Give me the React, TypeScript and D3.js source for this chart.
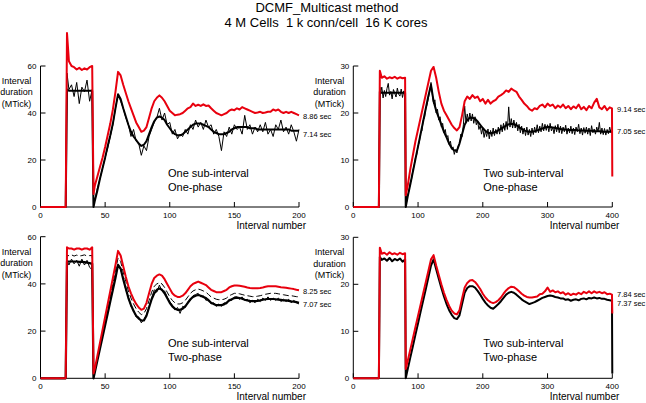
import React from "react";
import * as d3 from "d3";

// interval numbers sampled for left (0-200) and right (0-400) panels
const X_LEFT = [0, 19.5, 20.5, ...d3.range(22, 41, 2), 41, ...d3.range(42, 201, 2)];
const X_RIGHT = [0, 39.5, 41, ...d3.range(44, 81, 4), 81, ...d3.range(84, 397, 4), 399.5, 400];
const X_RIGHT_FINE = [0, 39.5, 41, ...d3.range(42, 81, 2), 81, ...d3.range(82, 399, 2), 399.5, 400];

// Panel 1: one sub-interval, one-phase
const RED_1 = [0, 0, 74,
  62, 60, 59.5, 58.5, 59.2, 58.3, 59, 58.5, 59.5, 60,
  5.5,
  9, 13, 17, 21, 25.5, 30.5, 35.5, 41.5, 49, 57.5,
  56, 52, 48.5, 45, 42, 39, 36, 34, 32, 32.5,
  34, 38, 42, 45, 46.5, 47.5, 46.5, 45, 43, 41,
  40, 39, 39.3, 39.5, 40, 41, 42, 42.5, 44, 43,
  43.5, 43, 43.7, 43, 43.2, 42, 41, 40, 39.5, 39,
  39.5, 40, 41, 41.5, 41.2, 42, 41.5, 42.5, 42, 41.5,
  41, 40.5, 40, 40.2, 40.5, 40, 40.2, 40.5, 40.5, 41.5,
  41, 41.5, 40.5, 40, 40.5, 40, 40.5, 40, 39.5, 39];
const BLK_1 = [0, 0, 57,
  50, 52, 47, 53, 44, 51, 49, 54, 45, 50,
  0,
  3, 8, 12, 16.5, 21, 25, 30, 35, 42, 48,
  45, 42, 38, 35, 30, 33, 28, 27, 22, 26,
  24, 30, 33, 36, 38, 42, 37, 40, 35, 36,
  31, 33, 29, 31, 30, 33, 31, 35, 33, 37,
  34, 36, 33, 37, 34, 35, 31, 33, 30, 24,
  32, 30, 34, 31, 35, 33, 34, 31, 39, 33,
  35, 31, 34, 32, 35, 32, 36, 31, 33, 30,
  35, 33, 37, 32, 34, 31, 35, 32, 28, 33];
const SMOOTH_1 = [0, 0, 50,
  49.5, 49.5, 49.5, 49.5, 49.5, 49.5, 49.5, 49.5, 49.5, 49.5,
  0,
  2.5, 7, 12, 16.5, 21, 26, 30.5, 35.5, 42, 48,
  46, 42, 38.5, 35, 32, 30, 28.5, 27, 26, 26.5,
  28, 31, 34, 36.5, 38, 38.5, 38, 37, 35, 33.5,
  32, 31, 30.5, 30.5, 31, 32, 33, 34, 35, 35.5,
  35.5, 35.5, 35, 34.5, 34, 33, 32, 31.5, 31, 31,
  31, 31.5, 32, 33, 33.5, 34, 34, 34, 34, 34,
  33.5, 33.5, 33.5, 33, 33, 33, 33, 33, 33, 33,
  33, 33, 33, 33, 33, 33, 32.5, 32.5, 32.5, 32.5];

// Panel 2: two sub-interval, one-phase
const RED_2 = [0, 0, 29,
  27.5, 27.8, 27.3, 27.6, 27.4, 27.7, 27.3, 27.6, 27.4, 27.5,
  2.5,
  4.5, 8, 11, 14, 16.5, 19, 21.5, 24, 26.5, 29,
  29.8, 27.5, 24.5, 22, 20.5, 19.5, 18.5, 17.5, 16.8, 16.3,
  17, 19.5, 22.5, 23.5, 23, 23.8, 23.2, 23.5, 22.5, 23,
  22, 22.8, 22, 22.5, 22.8, 23.5, 23.8, 24.2, 24.8, 24.5,
  25.2, 24.8, 24.5, 23.5, 22.8, 22, 21.5, 20.8, 20.5, 21,
  20.8, 21.5, 21.8, 21.2, 22, 21.5, 21.8, 21, 21.6, 21.2,
  21.8, 21, 21.5, 20.8, 21.4, 21, 21.8, 20.8, 21.3, 20.6,
  21.5, 21, 22.2, 23, 21.2, 20.8, 21.5, 20.6, 21.2,
  21, 6.5];
const BLK_2 = [0, 0, 25.5,
  24, 25.5, 23.2, 24.8, 23.5, 25.2, 26.3, 23.8, 24.6, 23, 25, 24.2, 23.4, 25.3, 24, 23.6, 25.1, 23.3, 24.7, 24,
  0,
  0.8, 2.5, 3.5, 5.2, 6, 7.8, 8.8, 10.5, 11.2, 13,
  13.8, 15.8, 16.2, 18.5, 19, 21, 21.8, 23.2, 24.5, 26.5,
  24, 22, 22.8, 20, 20.8, 18.5, 19.2, 17, 17.8, 15.8,
  16.5, 14.8, 15.2, 13.3, 14, 12.3, 12.8, 11.2, 12.2, 11.5,
  13, 13.5, 15.5, 15, 17.5, 21.5, 18, 19.8, 18.2, 20,
  18.3, 19.8, 17.8, 19.2, 17.5, 18.3, 16.5, 17.3, 15.5, 16.8,
  14.8, 16.2, 15, 16.6, 14.5, 16.3, 15, 16.8, 15.2, 16.5,
  15.5, 17, 15.5, 17.5, 16, 17.8, 16.3, 18.2, 16.5, 21.3,
  17, 18.8, 16.8, 18.5, 16.8, 18, 16.2, 17.6, 15.8, 17.2,
  15.5, 16.8, 15.2, 17, 15.3, 16.5, 15, 16.8, 15.4, 17,
  15.8, 17.5, 15.8, 17.2, 16, 17.8, 16.2, 17.6, 16.3, 17.5,
  16, 17.8, 16.2, 17, 15.6, 17.3, 16, 17.6, 15.8, 17.2,
  15.6, 17, 16, 17.4, 15.5, 16.8, 15.8, 17.2, 15.6, 16.8,
  15.4, 17, 16, 17.6, 15.6, 16.8, 15.3, 16.9, 15.7, 17,
  15.5, 16.8, 15.2, 17.3, 15.8, 16.6, 15.5, 17, 16, 18,
  15.5, 16.8, 15.4, 16.7, 15.3, 16.5, 15.6, 17, 15.8,
  16, 16];
const SMOOTH_2 = [0, 0, 24.5,
  24.3, 24.3, 24.3, 24.3, 24.3, 24.3, 24.3, 24.3, 24.3, 24.3,
  0,
  2.2, 4.8, 7.5, 10.2, 12.9, 15.6, 18.3, 21, 23.7, 26,
  22.5, 20.5, 19, 17.5, 16, 14.8, 13.5, 12.5, 12, 12,
  13.5, 15.5, 17.5, 18.5, 19, 19, 18.8, 18.2, 17.5, 16.8,
  16.2, 15.8, 15.7, 15.8, 16, 16.3, 16.6, 17, 17.3, 17.6,
  17.7, 17.6, 17.4, 17, 16.6, 16.3, 16.1, 16, 16, 16.1,
  16.3, 16.5, 16.7, 16.9, 17, 17, 16.9, 16.8, 16.7, 16.6,
  16.5, 16.5, 16.4, 16.4, 16.4, 16.4, 16.3, 16.3, 16.3, 16.2,
  16.2, 16.2, 16.1, 16.1, 16.1, 16, 16, 16, 16,
  16, 16];

// Panel 3: one sub-interval, two-phase
const RED_3 = [0, 0, 55.5,
  55, 55, 54.5, 55, 55, 54.5, 55, 55, 54.5, 55.5,
  2,
  4, 9.5, 15, 20.5, 26, 31.5, 37, 42.5, 48, 54,
  52, 47.5, 43, 39, 36, 33.5, 31.5, 30, 29, 29.5,
  32, 36, 40, 42.5, 43.5, 44, 43.5, 42, 40, 38,
  36, 35, 34.5, 34.5, 35, 36, 37.5, 39, 40, 40.5,
  41, 40.5, 40, 39.5, 38.5, 37.5, 37, 36.5, 36.5, 36.5,
  37, 37.5, 38.5, 39, 39.3, 39.3, 39.2, 39, 38.8, 38.5,
  38.3, 38.2, 38.2, 38.2, 38.3, 38.5, 38.8, 39, 39, 39,
  39, 38.8, 38.6, 38.5, 38.4, 38.2, 38, 37.8, 37.5, 37.3];
const DASH_3 = [0, 0, 52,
  52, 52.3, 51.8, 52.2, 51.8, 52, 52.3, 51.8, 52, 52,
  0,
  3, 8, 13.5, 18.5, 24, 29, 34.5, 40, 45.5, 51,
  49.5, 45, 41, 37, 34, 31.5, 29.5, 28, 27, 27.5,
  29.5, 33, 36.5, 39, 40, 40.5, 40, 38.5, 36.5, 34.5,
  33, 32, 31.5, 31.5, 32, 33, 34.5, 36, 37, 37.5,
  37.8, 37.5, 37, 36.5, 35.5, 34.5, 34, 33.5, 33.3, 33.3,
  33.5, 34, 35, 35.5, 36, 36, 35.8, 35.5, 35.2, 35,
  34.8, 34.6, 34.6, 34.8, 35, 35.3, 35.6, 35.8, 36, 36,
  36, 35.8, 35.6, 35.4, 35.2, 35, 35, 34.8, 34.6, 34.5];
const THICK_3 = [0, 0, 49.5,
  49.5, 49.5, 49.5, 49.5, 49.3, 49.3, 49.2, 49, 48.8, 48.5,
  0,
  2.5, 7.5, 12.5, 17.5, 22.5, 27.5, 32.5, 37.5, 42.5, 48,
  46.5, 42, 38, 34, 31, 28.5, 26.5, 25.3, 24.5, 24.5,
  26.5, 30, 33.5, 36, 37.5, 38, 37.5, 36, 34, 32,
  30.5, 29.5, 29, 29, 29.5, 30.5, 32, 33.5, 34.5, 35,
  35.3, 35, 34.5, 34, 33, 32, 31.5, 31, 31, 31,
  31.3, 32, 33, 33.5, 34, 34.2, 34, 33.7, 33.3, 33,
  32.8, 32.7, 32.7, 32.8, 33, 33.3, 33.5, 33.6, 33.6, 33.6,
  33.5, 33.3, 33.2, 33, 33, 32.8, 32.6, 32.5, 32.3, 32];
const NOISY_3 = [0, 0, 50,
  48, 50.5, 48.5, 50, 47.5, 50.5, 48, 50, 47, 46,
  0,
  3, 8, 13, 18, 23, 28, 33, 38, 43, 48.5,
  46, 42.5, 37.5, 34.5, 30.5, 29, 26, 26, 23.5, 25,
  27, 30.5, 34, 37.5, 36.5, 39.5, 37, 37, 34.5, 32.5,
  31, 29, 30, 27.5, 30.5, 30, 32.5, 33, 35, 35.5,
  36, 34.5, 35, 33, 33.5, 31.5, 32, 30.5, 31.5, 30.5,
  32, 31.5, 33.5, 33, 34.5, 34.5, 33.5, 34.5, 33, 33.5,
  32, 33, 32, 33.5, 32.5, 34, 33, 34.5, 33, 34,
  33, 34, 32.5, 33.5, 32.5, 33.5, 32, 33, 32, 31.5];

// Panel 4: two sub-interval, two-phase
const RED_4 = [0, 0, 27.8,
  26.5, 26.7, 26.3, 26.8, 26.4, 26.6, 26.3, 26.7, 26.4, 26.6,
  2,
  3.7, 6.1, 8.5, 10.9, 13.3, 15.7, 18.1, 20.5, 22.9, 25.3,
  26.2, 24, 22, 20, 18.2, 16.7, 15.4, 14.4, 13.8, 13.6,
  14.5, 17, 19.3, 20.3, 20.8, 20.9, 20.5, 19.8, 19, 18,
  17.2, 16.6, 16.2, 16, 16.2, 16.6, 17.2, 18, 18.7, 19.2,
  19.5, 19.4, 19, 18.5, 18, 17.6, 17.3, 17.2, 17.2, 17.3,
  17.4, 17.9, 18, 18.5, 19.3, 18.4, 18.7, 18.3, 18.5, 18.1,
  18.3, 17.8, 18.1, 17.7, 18, 17.8, 18.2, 17.9, 18.4, 18.1,
  18.5, 18.1, 18.5, 18.2, 18.4, 18.1, 18.3, 17.9, 18,
  17.8, 13.8];
const BLK_4 = [0, 0, 25.8,
  25.2, 25.5, 25, 25.6, 24.9, 25.4, 25.1, 25.5, 24.8, 25.3,
  0,
  1.9, 4.4, 6.8, 9.3, 11.7, 14.2, 16.6, 19, 21.5, 24,
  25.3, 23.2, 21.2, 19.2, 17.4, 15.8, 14.5, 13.5, 12.8, 12.6,
  13.4, 15.8, 18.2, 19.2, 19.6, 19.6, 19.3, 18.6, 17.8, 16.9,
  16.1, 15.5, 15, 14.8, 15.3, 15.8, 16.4, 17.1, 17.8, 18.2,
  18.4, 18.2, 17.8, 17.3, 16.8, 16.4, 16.1, 15.8, 16, 16.2,
  16.5, 16.8, 17.1, 17.3, 17.5, 17.6, 17.5, 17.3, 17.2, 17,
  17, 16.7, 16.8, 16.5, 16.7, 16.8, 16.6, 16.9, 17, 16.8,
  17.1, 17, 17.2, 17, 17.1, 16.9, 16.9, 16.7, 16.6,
  16.5, 1];

const X_TICKS_LEFT = [0, 50, 100, 150, 200];
const X_TICKS_RIGHT = [0, 100, 200, 300, 400];
const Y_TICKS_60 = [0, 20, 40, 60];
const Y_TICKS_30 = [0, 10, 20, 30];

const TITLE_1 = "DCMF_Multicast method";
const TITLE_2 = "4 M Cells  1 k conn/cell  16 K cores";
const Y_LABEL = ["Interval", "duration", "(MTick)"];
const X_LABEL = "Interval number";

const RED = "#e8000e";
const FONT = "'Liberation Sans', Arial, Helvetica, sans-serif";

type Line = { values: number[]; color: string; width: number; dash?: string; xs?: number[] };

type PanelProps = {
  xRange: [number, number];
  yRange: [number, number];
  xMax: number;
  yMax: number;
  xs: number[];
  xTicks: number[];
  yTicks: number[];
  lines: Line[];
  note: [string, string];
  noteX: number;
  noteY: number;
  secs: [string, string];
  secX: number;
  secY: [number, number];
  yLabelX: number;
};

function Panel(p: PanelProps) {
  const x = d3.scaleLinear().domain([0, p.xMax]).range(p.xRange);
  const y = d3.scaleLinear().domain([0, p.yMax]).range(p.yRange);
  const [x0, x1] = p.xRange;
  const [y0, y1] = p.yRange;
  return (
    <g>
      <line x1={x0} x2={x0} y1={y0} y2={y1} stroke="#000" strokeWidth={1} />
      <line x1={x0} x2={x1} y1={y0} y2={y0} stroke="#000" strokeWidth={1} />
      {p.yTicks.map((t) => (
        <g key={"y" + t}>
          <line x1={x0} x2={x0 + 5} y1={y(t)} y2={y(t)} stroke="#000" />
          <text x={x0 - 4} y={y(t) + 3} fontSize={8} textAnchor="end">{t}</text>
        </g>
      ))}
      {p.xTicks.map((t) => (
        <g key={"x" + t}>
          <line x1={x(t)} x2={x(t)} y1={y0} y2={y0 - 5} stroke="#000" />
          <text x={x(t)} y={y0 + 11} fontSize={8} textAnchor="middle">{t}</text>
        </g>
      ))}
      <text x={x1 + 7} y={y0 + 22} fontSize={10} textAnchor="end">{X_LABEL}</text>
      {Y_LABEL.map((s, i) => (
        <text key={s} x={p.yLabelX} y={y1 + 17.8 + i * 11.5} fontSize={9} textAnchor="middle">{s}</text>
      ))}
      {p.lines.map((l, k) => {
        const xs = l.xs || p.xs;
        const gen = d3
          .line<number>()
          .x((_, i) => x(xs[i]))
          .y((d) => y(d));
        return (
          <path
            key={k}
            d={gen(l.values) || ""}
            fill="none"
            stroke={l.color}
            strokeWidth={l.width}
            strokeDasharray={l.dash}
            strokeLinejoin="round"
          />
        );
      })}
      <text x={p.noteX} y={p.noteY} fontSize={11}>{p.note[0]}</text>
      <text x={p.noteX} y={p.noteY + 13.7} fontSize={11}>{p.note[1]}</text>
      <text x={p.secX} y={p.secY[0]} fontSize={7.5}>{p.secs[0]}</text>
      <text x={p.secX} y={p.secY[1]} fontSize={7.5}>{p.secs[1]}</text>
    </g>
  );
}

export default function App() {
  return (
    <svg
      width={646}
      height={403}
      style={{ position: "absolute", left: 0, top: 0, background: "#fff" }}
      fontFamily={FONT}
    >
      <rect width={646} height={403} fill="#fff" />
      <text x={327} y={11.8} fontSize={13} textAnchor="middle">{TITLE_1}</text>
      <text x={326} y={26.8} fontSize={13} textAnchor="middle" style={{ whiteSpace: "pre" }}>{TITLE_2}</text>

      <Panel
        xRange={[40.5, 299]} yRange={[207, 66]} xMax={200} yMax={60}
        xs={X_LEFT} xTicks={X_TICKS_LEFT} yTicks={Y_TICKS_60}
        lines={[
          { values: BLK_1, color: "#000", width: 1 },
          { values: SMOOTH_1, color: "#000", width: 2 },
          { values: RED_1, color: RED, width: 2 },
        ]}
        note={["One sub-interval", "One-phase"]} noteX={168} noteY={177.3}
        secs={["8.86 sec", "7.14 sec"]} secX={303} secY={[118.7, 137]} yLabelX={16.5}
      />
      <Panel
        xRange={[353.3, 612.3]} yRange={[207, 66]} xMax={400} yMax={30}
        xs={X_RIGHT} xTicks={X_TICKS_RIGHT} yTicks={Y_TICKS_30}
        lines={[
          { values: BLK_2, color: "#000", width: 1, xs: X_RIGHT_FINE },
          { values: SMOOTH_2, color: "#000", width: 2 },
          { values: RED_2, color: RED, width: 2 },
        ]}
        note={["Two sub-interval", "One-phase"]} noteX={483.3} noteY={177.3}
        secs={["9.14 sec", "7.05 sec"]} secX={617} secY={[112, 133.7]} yLabelX={329.5}
      />
      <Panel
        xRange={[40.5, 299]} yRange={[378.3, 236.7]} xMax={200} yMax={60}
        xs={X_LEFT} xTicks={X_TICKS_LEFT} yTicks={Y_TICKS_60}
        lines={[
          { values: NOISY_3, color: "#000", width: 1 },
          { values: THICK_3, color: "#000", width: 2.2 },
          { values: DASH_3, color: "#000", width: 1, dash: "6,3" },
          { values: RED_3, color: RED, width: 2 },
        ]}
        note={["One sub-interval", "Two-phase"]} noteX={168} noteY={347}
        secs={["8.25 sec", "7.07 sec"]} secX={303} secY={[293.7, 307]} yLabelX={16.5}
      />
      <Panel
        xRange={[353.3, 612.3]} yRange={[378.3, 237.3]} xMax={400} yMax={30}
        xs={X_RIGHT} xTicks={X_TICKS_RIGHT} yTicks={Y_TICKS_30}
        lines={[
          { values: BLK_4, color: "#000", width: 2 },
          { values: RED_4, color: RED, width: 2 },
        ]}
        note={["Two sub-interval", "Two-phase"]} noteX={483.3} noteY={347}
        secs={["7.84 sec", "7.37 sec"]} secX={617} secY={[297, 306.4]} yLabelX={329.5}
      />
    </svg>
  );
}
